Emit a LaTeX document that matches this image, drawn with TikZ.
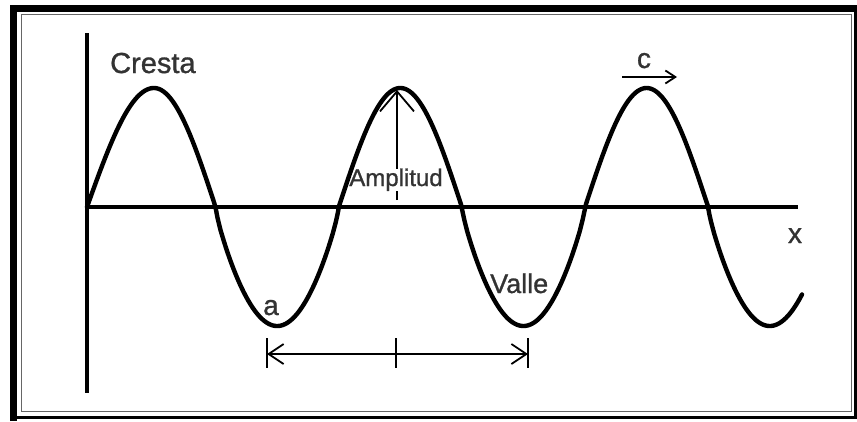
\documentclass[tikz,border=0pt]{standalone}
\usepackage{fontspec}
\setmainfont[FakeBold=1]{Liberation Sans}
\usetikzlibrary{arrows.meta}
\begin{document}
\begin{tikzpicture}[x=1pt,y=-1pt,
  declare function={wshape(\c)=(\c>0) ? \c : -pow(max(-\c,0.0001),0.8);},
  wave/.style={line width=4.4pt, line cap=round, line join=round},
  axisline/.style={line width=4.5pt},
  thinline/.style={line width=1.8pt},
  lbl/.style={inner sep=0pt, text=black!80, font=\fontsize{28}{30}\selectfont}]
\useasboundingbox (0,0) rectangle (857,421);
\fill[white] (0,0) rectangle (857,421);
% frame
\draw[line width=1pt, black!60] (21.5,14.5) rectangle (851,411.5);
\draw[line width=7pt] (13.5,421) -- (13.5,8.5) -- (857,8.5);
\draw[line width=3pt] (13.5,417) -- (855,417) -- (855,8.5);
% axes
\coordinate (O) at (87,207);
\coordinate (ytop) at (87,33);
\coordinate (ybot) at (87,393);
\coordinate (xend) at (798,207);
\draw[axisline] (ytop) -- (ybot);
\draw[axisline] (O) -- (xend);
% amplitude
\coordinate (ampbase) at (397,200);
\coordinate (amptop) at (397,90);
\draw[thinline, -{Straight Barb[length=20pt,width=34pt]}] (ampbase) -- (amptop);
\node[lbl, fill=white, font=\fontsize{24}{26}\selectfont, anchor=base] (amp) at (396,186) {Amplitud};
% wave
\draw[wave] plot[domain=87:154, samples=60] (\x, {207-119*sin(1.34328*(\x-87))})
  -- plot[domain=154:802, samples=400] (\x, {207-119*wshape(cos(1.46163*(\x-154)))});
% wavelength dimension
\coordinate (dl) at (267,354);
\coordinate (dr) at (528,354);
\coordinate (dlt) at (267,338);
\coordinate (dlb) at (267,368);
\coordinate (dmt) at (396,338);
\coordinate (dmb) at (396,368);
\coordinate (drt) at (528,338);
\coordinate (drb) at (528,368);
\draw[thinline] (dlt) -- (dlb);
\draw[thinline] (dmt) -- (dmb);
\draw[thinline] (drt) -- (drb);
\draw[thinline, {Straight Barb[length=15pt,width=20pt]}-{Straight Barb[length=15pt,width=20pt]}] (dl) -- (dr);
% speed arrow
\coordinate (cs) at (622,77);
\coordinate (ce) at (677,77);
\draw[thinline, -{Straight Barb[length=10pt,width=13pt]}] (cs) -- (ce);
% labels
\node[lbl, font=\fontsize{29}{30}\selectfont, anchor=base west] (cresta) at (110,73) {Cresta};
\node[lbl, anchor=base] (cl) at (644,68) {c};
\node[lbl, anchor=base] (xl) at (795,243) {x};
\node[lbl, anchor=base] (al) at (271,315) {a};
\node[lbl, font=\fontsize{27}{29}\selectfont, anchor=base west] (valle) at (490,293) {Valle};
\end{tikzpicture}
\end{document}
